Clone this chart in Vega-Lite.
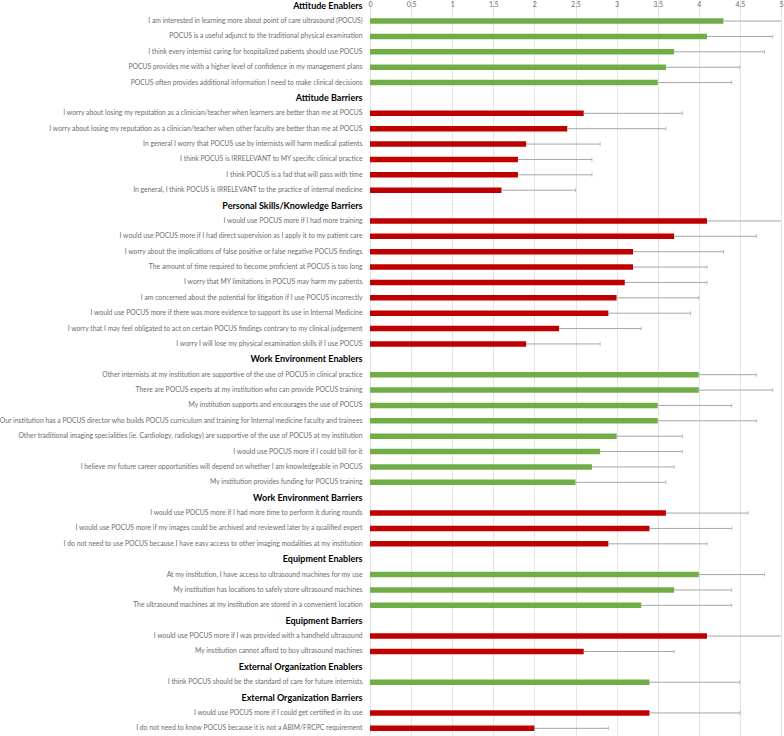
{
  "$schema": "https://vega.github.io/schema/vega-lite/v6.json",
  "width": 411,
  "height": 738,
  "autosize": {"type": "none"},
  "padding": {"left": 370, "top": -2, "right": 3, "bottom": 0},
  "background": "white",
  "config": {"view": {"stroke": null}, "font": "Lato"},
  "data": {"values": [
    {"label": "Attitude Enablers", "type": "header", "value": null, "err": null},
    {"label": "I am interested in learning more about point of care ultrasound (POCUS)", "type": "Enabler", "value": 4.3, "err": 5.2},
    {"label": "POCUS is a useful adjunct to the traditional physical examination", "type": "Enabler", "value": 4.1, "err": 4.9},
    {"label": "I think every internist caring for hospitalized patients should use POCUS", "type": "Enabler", "value": 3.7, "err": 4.8},
    {"label": "POCUS provides me with a higher level of confidence in my management plans", "type": "Enabler", "value": 3.6, "err": 4.5},
    {"label": "POCUS often provides additional information I need to make clinical decisions", "type": "Enabler", "value": 3.5, "err": 4.4},
    {"label": "Attitude Barriers", "type": "header", "value": null, "err": null},
    {"label": "I worry about losing my reputation as a clinician/teacher when learners are better than me at POCUS", "type": "Barrier", "value": 2.6, "err": 3.8},
    {"label": "I worry about losing my reputation as a clinician/teacher when other faculty are better than me at POCUS", "type": "Barrier", "value": 2.4, "err": 3.6},
    {"label": "In general I worry that POCUS use by internists will harm medical patients", "type": "Barrier", "value": 1.9, "err": 2.8},
    {"label": "I think POCUS is IRRELEVANT to MY specific clinical practice", "type": "Barrier", "value": 1.8, "err": 2.7},
    {"label": "I think POCUS is a fad that will pass with time", "type": "Barrier", "value": 1.8, "err": 2.7},
    {"label": "In general, I think POCUS is IRRELEVANT to the practice of internal medicine", "type": "Barrier", "value": 1.6, "err": 2.5},
    {"label": "Personal Skills/Knowledge Barriers", "type": "header", "value": null, "err": null},
    {"label": "I would use POCUS more if I had more training", "type": "Barrier", "value": 4.1, "err": 5.2},
    {"label": "I would use POCUS more if I had direct supervision as I apply it to my patient care", "type": "Barrier", "value": 3.7, "err": 4.7},
    {"label": "I worry about the implications of false positive or false negative POCUS findings", "type": "Barrier", "value": 3.2, "err": 4.3},
    {"label": "The amount of time required to become proficient at POCUS is too long", "type": "Barrier", "value": 3.2, "err": 4.1},
    {"label": "I worry that MY limitations in POCUS may harm my patients", "type": "Barrier", "value": 3.1, "err": 4.1},
    {"label": "I am concerned about the potential for litigation if I use POCUS incorrectly", "type": "Barrier", "value": 3.0, "err": 4.0},
    {"label": "I would use POCUS more if there was more evidence to support its use in Internal Medicine", "type": "Barrier", "value": 2.9, "err": 3.9},
    {"label": "I worry that I may feel obligated to act on certain POCUS findings contrary to my clinical judgement", "type": "Barrier", "value": 2.3, "err": 3.3},
    {"label": "I worry I will lose my physical examination skills if I use POCUS", "type": "Barrier", "value": 1.9, "err": 2.8},
    {"label": "Work Environment Enablers", "type": "header", "value": null, "err": null},
    {"label": "Other internists at my institution are supportive of the use of POCUS in clinical practice", "type": "Enabler", "value": 4.0, "err": 4.7},
    {"label": "There are POCUS experts at my institution who can provide POCUS training", "type": "Enabler", "value": 4.0, "err": 4.9},
    {"label": "My institution supports and encourages the use of POCUS", "type": "Enabler", "value": 3.5, "err": 4.4},
    {"label": "Our institution has a POCUS director who builds POCUS curriculum and training for Internal medicine faculty and trainees", "type": "Enabler", "value": 3.5, "err": 4.7},
    {"label": "Other traditional imaging specialities (ie. Cardiology, radiology) are supportive of the use of POCUS at my institution", "type": "Enabler", "value": 3.0, "err": 3.8},
    {"label": "I would use POCUS more if I could bill for it", "type": "Enabler", "value": 2.8, "err": 3.8},
    {"label": "I believe my future career opportunities will depend on whether I am knowledgeable in POCUS", "type": "Enabler", "value": 2.7, "err": 3.7},
    {"label": "My institution provides funding for POCUS training", "type": "Enabler", "value": 2.5, "err": 3.6},
    {"label": "Work Environment Barriers", "type": "header", "value": null, "err": null},
    {"label": "I would use POCUS more if I had more time to perform it during rounds", "type": "Barrier", "value": 3.6, "err": 4.6},
    {"label": "I would use POCUS more if my images could be archived and reviewed later by a qualified expert", "type": "Barrier", "value": 3.4, "err": 4.4},
    {"label": "I do not need to use POCUS because I have easy access to other imaging modalities at my institution", "type": "Barrier", "value": 2.9, "err": 4.1},
    {"label": "Equipment Enablers", "type": "header", "value": null, "err": null},
    {"label": "At my institution, I have access to ultrasound machines for my use", "type": "Enabler", "value": 4.0, "err": 4.8},
    {"label": "My institution has locations to safely store ultrasound machines", "type": "Enabler", "value": 3.7, "err": 4.4},
    {"label": "The ultrasound machines at my institution are stored in a convenient location", "type": "Enabler", "value": 3.3, "err": 4.4},
    {"label": "Equipment Barriers", "type": "header", "value": null, "err": null},
    {"label": "I would use POCUS more if I was provided with a handheld ultrasound", "type": "Barrier", "value": 4.1, "err": 5.2},
    {"label": "My institution cannot afford to buy ultrasound machines", "type": "Barrier", "value": 2.6, "err": 3.7},
    {"label": "External Organization Enablers", "type": "header", "value": null, "err": null},
    {"label": "I think POCUS should be the standard of care for future internists", "type": "Enabler", "value": 3.4, "err": 4.5},
    {"label": "External Organization Barriers", "type": "header", "value": null, "err": null},
    {"label": "I would use POCUS more if I could get certified in its use", "type": "Barrier", "value": 3.4, "err": 4.5},
    {"label": "I do not need to know POCUS because it is not a ABIM/FRCPC requirement", "type": "Barrier", "value": 2.0, "err": 2.9}
  ]},
  "encoding": {
    "y": {
      "field": "label",
      "type": "nominal",
      "sort": null,
      "scale": {"paddingInner": 0, "paddingOuter": 0},
      "axis": {
        "title": null,
        "domain": false,
        "ticks": false,
        "labelPadding": 8,
        "labelLimit": 400,
        "labelFont": "Lato",
        "labelFontSize": {"condition": {"test": "test(/(Enablers|Barriers)$/, datum.value)", "value": 9}, "value": 6.8},
        "labelFontWeight": {"condition": {"test": "test(/(Enablers|Barriers)$/, datum.value)", "value": "bold"}, "value": "normal"},
        "labelColor": {"condition": {"test": "test(/(Enablers|Barriers)$/, datum.value)", "value": "#000000"}, "value": "#6e6e6e"}
      }
    }
  },
  "layer": [
    {
      "mark": {"type": "text", "text": ""},
      "encoding": {}
    },
    {
      "transform": [{"filter": "datum.value != null"}],
      "mark": {"type": "bar", "size": 5.5},
      "encoding": {
        "x": {
          "field": "value",
          "type": "quantitative",
          "scale": {"domain": [0, 5], "nice": false},
          "axis": {
            "orient": "top",
            "title": null,
            "values": [0, 0.5, 1, 1.5, 2, 2.5, 3, 3.5, 4, 4.5, 5],
            "format": "~g",
            "domain": false,
            "ticks": false,
            "offset": -9,
            "labelPadding": 0,
            "labelFont": "Lato",
            "labelFontSize": 7,
            "labelColor": "#6e6e6e",
            "grid": true,
            "gridColor": "#e4e4e4",
            "gridWidth": 1,
            "labelFlush": false
          }
        },
        "color": {
          "field": "type",
          "type": "nominal",
          "scale": {"domain": ["Enabler", "Barrier"], "range": ["#70AD47", "#C00000"]},
          "legend": null
        }
      }
    },
    {
      "transform": [{"filter": "datum.value != null"}],
      "mark": {"type": "rule", "color": "#a6a6a6", "strokeWidth": 1, "clip": true},
      "encoding": {
        "x": {"field": "value", "type": "quantitative"},
        "x2": {"field": "err"}
      }
    },
    {
      "transform": [{"filter": "datum.value != null"}],
      "mark": {"type": "tick", "orient": "vertical", "color": "#a6a6a6", "size": 4, "thickness": 1, "clip": true},
      "encoding": {
        "x": {"field": "err", "type": "quantitative"}
      }
    }
  ]
}
